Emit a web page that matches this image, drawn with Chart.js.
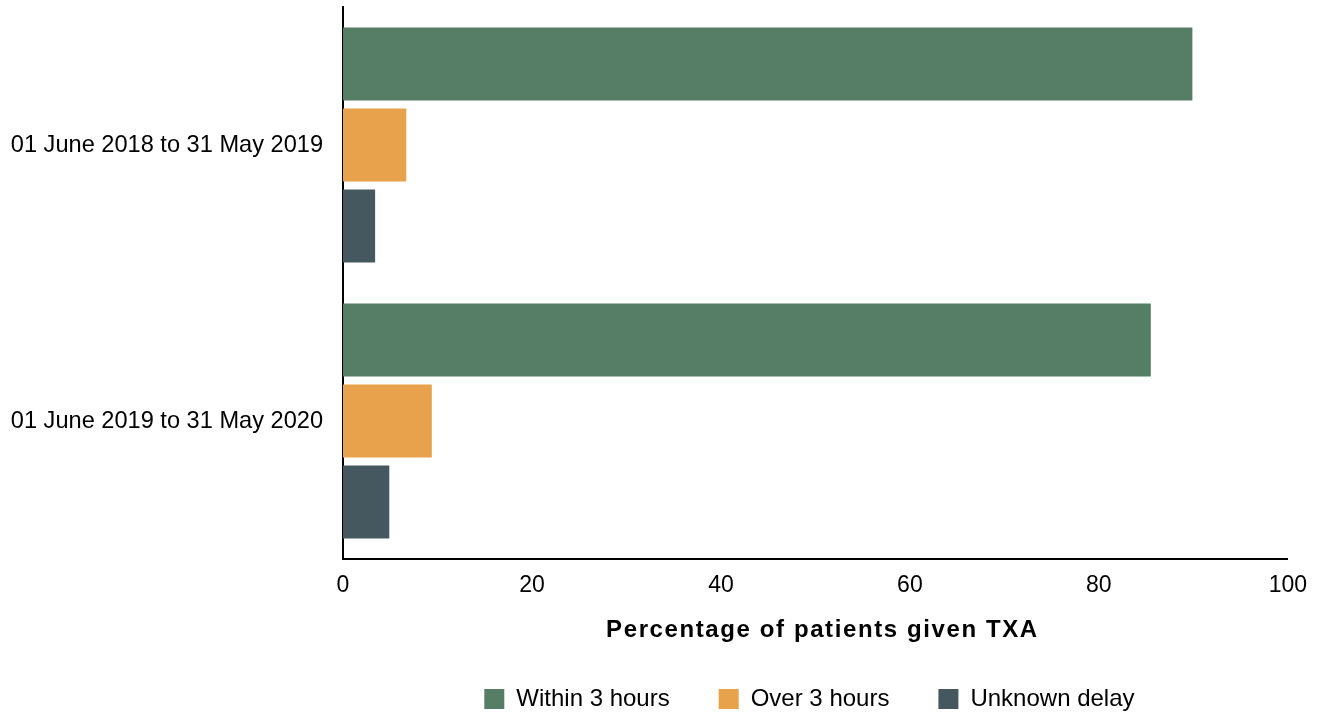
<!DOCTYPE html>
<html lang="en">
<head>
    <meta charset="UTF-8">
    <title>TXA timing</title>
    <script src="https://cdn.jsdelivr.net/npm/chart.js"></script>
    <style>
        html, body { margin: 0; padding: 0; background: #fff; }
        #wrap { width: 1320px; height: 714px; }
    </style>
</head>
<body>
    <div id="wrap"><canvas id="myChart" width="1320" height="714"></canvas></div>
    <script>
const periods = ['01 June 2018 to 31 May 2019', '01 June 2019 to 31 May 2020'];
const seriesNames = ['Within 3 hours', 'Over 3 hours', 'Unknown delay'];
const within3 = [89.9, 85.5];
const over3 = [6.7, 9.4];
const unknownDelay = [3.4, 4.9];
const xTicks = [0, 20, 40, 60, 80, 100];

const colours = ['#567e66', '#e8a24b', '#46585f'];
const font = "'Liberation Sans', Arial, sans-serif";

// legend sits under the plot area, not the whole canvas; title gets a bit of letter spacing
const tweaks = {
    id: 'tweaks',
    afterLayout(chart) {
        const lg = chart.legend;
        const shift = (chart.chartArea.left + chart.chartArea.right) / 2 - (lg.left + lg.right) / 2 - 6;
        lg.left += shift;
        lg.right += shift;
        const s = chart.scales.x;
        if (!s._spaced) {
            const orig = s.drawTitle;
            s.drawTitle = function () {
                this.ctx.save();
                this.ctx.letterSpacing = '1.6px';
                this.ctx.translate(7, 0);
                orig.apply(this, arguments);
                this.ctx.restore();
            };
            s._spaced = true;
        }
    }
};

const ctx = document.getElementById('myChart').getContext('2d');
const myChart = new Chart(ctx, {
    type: 'bar',
    data: {
        labels: periods,
        datasets: [within3, over3, unknownDelay].map((vals, i) => ({
            label: seriesNames[i],
            data: vals,
            backgroundColor: colours[i],
            borderWidth: 0,
            categoryPercentage: 0.88,
            barPercentage: 0.9
        }))
    },
    options: {
        indexAxis: 'y',
        responsive: false,
        animation: false,
        layout: { padding: { left: 0, right: 30, top: 7, bottom: -7 } },
        scales: {
            x: {
                min: 0,
                max: 100,
                afterBuildTicks: (scale) => { scale.ticks = xTicks.map(v => ({ value: v })); },
                afterFit: (scale) => { scale.height = 79; },
                grid: { display: false, drawTicks: false },
                border: { display: true, color: '#000', width: 2 },
                ticks: { color: '#000', padding: 13, font: { family: font, size: 23 } },
                title: {
                    display: true,
                    text: 'Percentage of patients given TXA',
                    color: '#000',
                    font: { family: font, size: 24, weight: 'bold' },
                    padding: { top: 0, bottom: -7 }
                }
            },
            y: {
                afterFit: (scale) => {
                    scale.width = 343;
                    scale.paddingTop = 0;
                    scale.paddingBottom = 0;
                },
                grid: { display: false, drawTicks: false },
                border: { display: true, color: '#000', width: 2 },
                ticks: { color: '#000', padding: 20, font: { family: font, size: 23.6 } }
            }
        },
        plugins: {
            legend: {
                position: 'bottom',
                labels: {
                    color: '#000',
                    boxWidth: 20,
                    boxHeight: 20,
                    padding: 49,
                    font: { family: font, size: 24 }
                }
            },
            tooltip: { enabled: false }
        }
    },
    plugins: [tweaks]
});
    </script>
</body>
</html>
